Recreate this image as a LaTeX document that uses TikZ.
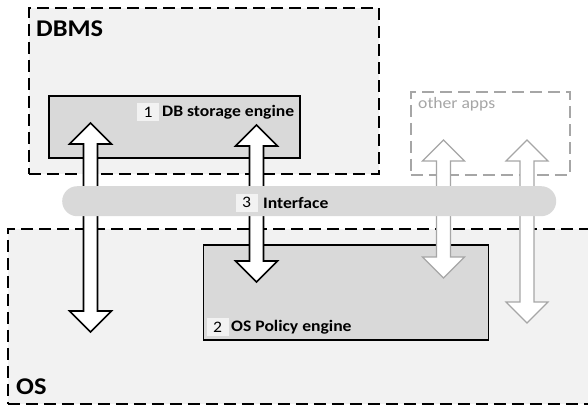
\documentclass[tikz,border=0pt]{standalone}
\usepackage{fontspec}
\setmainfont{Carlito}
\usetikzlibrary{calc}
\definecolor{bgc}{HTML}{F2F2F2}
\definecolor{boxc}{HTML}{D9D9D9}
\definecolor{grayc}{HTML}{A6A6A6}
\tikzset{
 region/.style={draw=black, fill=bgc, dash pattern=on 12pt off 6pt, line width=1.8pt, anchor=north west, inner sep=0pt},
 engine/.style={draw=black, fill=boxc, line width=1.5pt, anchor=north west, inner sep=0pt},
 appsbox/.style={draw=grayc, dash pattern=on 12pt off 6pt, line width=1.5pt, anchor=north west, inner sep=0pt},
 bar/.style={fill=boxc, rounded corners=15pt, anchor=north west, inner sep=0pt},
 num/.style={fill=bgc, inner sep=0pt, minimum width=20pt, minimum height=18pt, font=\fontsize{16}{18}\selectfont, xscale=1.1},
 lbl/.style={font=\fontsize{16}{18}\selectfont\bfseries, anchor=base west, inner sep=0pt, xscale=1.1},
 big/.style={font=\fontsize{24}{27}\selectfont\bfseries, anchor=base west, inner sep=0pt, xscale=1.1},
 blackarrow/.style={draw=black, fill=white, line width=1.6pt, line join=miter},
 grayarrow/.style={draw=grayc, fill=white, line width=1.2pt, line join=miter},
}
\newcommand\dblarrow[3]{\draw[#1] (#2) -- ++(21,21) -- ++(-14,0) -- ($(#3)+(7,-21)$) -- ++(14,0) -- (#3) -- ++(-21,-21) -- ++(14,0) -- ($(#2)+(-7,21)$) -- ++(-14,0) -- cycle;}
\begin{document}
\begin{tikzpicture}[x=1pt,y=-1pt]
\clip (0,0) rectangle (588,408);
\fill[white] (0,0) rectangle (588,408);
% regions
\node[region, minimum width=600pt, minimum height=175pt] (os) at (7,228) {};
\node[engine, minimum width=285pt, minimum height=95pt] (policy) at (202.5,244) {};
\node[region, minimum width=350pt, minimum height=166pt] (dbms) at (28,7) {};
\node[engine, minimum width=251pt, minimum height=62pt] (storage) at (48,95) {};
\node[appsbox, minimum width=159pt, minimum height=83pt] (apps) at (410,91) {};
% arrow end points
\coordinate (a1t) at (90.5,123); \coordinate (a1b) at (90.5,332);
\coordinate (a2t) at (256.5,125); \coordinate (a2b) at (256.5,282);
\coordinate (g1t) at (443.5,140); \coordinate (g1b) at (443.5,278);
\coordinate (g2t) at (527,140); \coordinate (g2b) at (527,323);
\dblarrow{blackarrow}{a1t}{a1b}
\dblarrow{blackarrow}{a2t}{a2b}
\dblarrow{grayarrow}{g1t}{g1b}
\dblarrow{grayarrow}{g2t}{g2b}
% interface bar
\node[bar, minimum width=494pt, minimum height=30pt] (iface) at (62,186) {};
% labels
\node[big] (dbmslbl) at (36,36) {DBMS};
\node[big] (oslbl) at (16,394) {OS};
\node[num] (n1) at (148,112) {1};
\node[lbl] (storagelbl) at (162,116) {DB storage engine};
\node[num] (n3) at (246.5,202.5) {3};
\node[lbl] (ifacelbl) at (263,208) {Interface};
\node[num] (n2) at (217.5,327) {2};
\node[lbl] (policylbl) at (231,331.5) {OS Policy engine};
\node[font=\fontsize{16}{18}\selectfont, text=grayc, anchor=base west, inner sep=0pt, xscale=1.1] (appslbl) at (418,108) {other apps};
\end{tikzpicture}
\end{document}
